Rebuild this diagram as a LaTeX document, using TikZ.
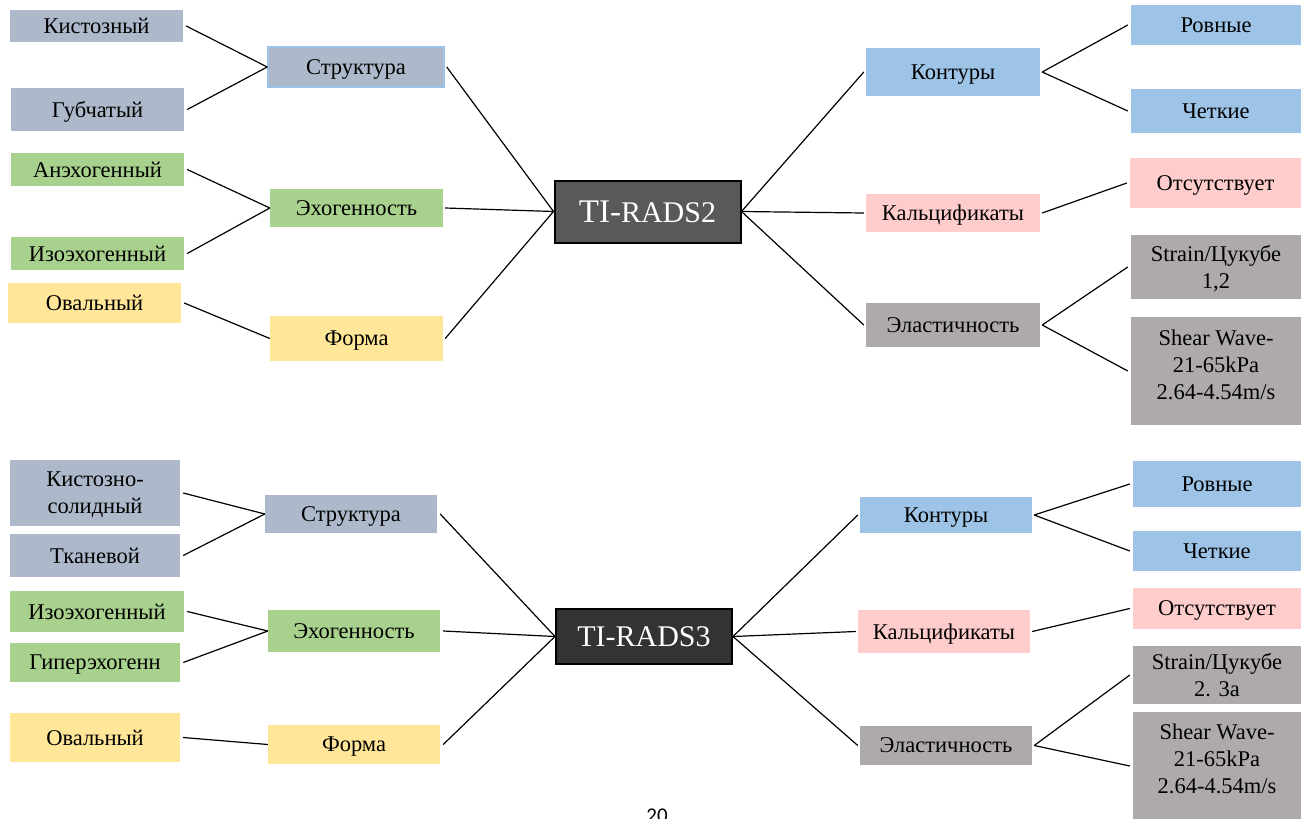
\documentclass[tikz,border=0pt]{standalone}
\usepackage{fontspec}
\setmainfont{Liberation Serif}
\newfontfamily\pagefont{Carlito}
\definecolor{cgb}{HTML}{ADB9CA}
\definecolor{cgr}{HTML}{A9D18E}
\definecolor{cye}{HTML}{FFE699}
\definecolor{cbl}{HTML}{9DC3E6}
\definecolor{cpk}{HTML}{FFCCCC}
\definecolor{cgy}{HTML}{AEAAAA}
\definecolor{cdk2}{HTML}{595959}
\definecolor{cdk3}{HTML}{333333}
\tikzset{
  bx/.style={inner sep=0pt, align=center, text depth=0pt, font=\fontsize{22.5}{27}\selectfont, text=black},
  gb/.style={bx, fill=cgb},
  gr/.style={bx, fill=cgr},
  ye/.style={bx, fill=cye},
  bl/.style={bx, fill=cbl},
  pk/.style={bx, fill=cpk},
  gy/.style={bx, fill=cgy},
  wh/.style={minimum width=#1},
  ht/.style={minimum height=#1},
  ti/.style={inner sep=0pt, draw=black, line width=2pt, text=white, font=\fontsize{30}{34}\selectfont},
  con/.style={draw=black, line width=1.2pt},
}
\begin{document}
\begin{tikzpicture}[x=1pt,y=-1pt]
\useasboundingbox (0,0) rectangle (1301,819);
% ===== TOP: TI-RADS2 =====
\node[ti, fill=cdk2, wh=186, ht=62] (t2) at (647.5,211.5) {{\fontsize{33}{34}\selectfont TI-}RADS2};
\node[gb, wh=173, ht=32] (a1) at (96.5,26) {Кистозный};
\node[gb, wh=173, ht=43] (a2) at (97.5,109.5) {Губчатый};
\node[gb, wh=176, ht=40, draw=cbl, line width=1.5pt] (as) at (356,67) {Структура};
\node[gr, wh=173, ht=33] (b1) at (97.5,169.5) {Анэхогенный};
\node[gr, wh=173, ht=33] (b2) at (97.5,253.5) {Изоэхогенный};
\node[gr, wh=173, ht=38] (bs) at (356.5,208) {Эхогенность};
\node[ye, wh=173, ht=40] (c1) at (94.5,303) {Овальный};
\node[ye, wh=173, ht=45] (cs) at (356.5,338.5) {Форма};
\node[bl, wh=174, ht=48] (d) at (953,72) {Контуры};
\node[bl, wh=170, ht=40] (d1) at (1216,25) {Ровные};
\node[bl, wh=170, ht=44] (d2) at (1216,111) {Четкие};
\node[pk, wh=174, ht=38] (e) at (953,213) {Кальцификаты};
\node[pk, wh=171, ht=50] (e1) at (1215.5,183) {Отсутствует};
\node[gy, wh=174, ht=44] (f) at (953,325) {Эластичность};
\node[gy, wh=170, ht=64] (f1) at (1216,267) {Strain/Цукубе\\1,2};
\node[gy, wh=170, ht=108, label={[bx, yshift=6.5pt]center:{Shear Wave-\\21-65kPa\\2.64-4.54m/s}}] (f2) at (1216,371) {};
\draw[con] ([xshift=3pt]a1.east) -- (as.west);
\draw[con] ([xshift=3pt]a2.east) -- (as.west);
\draw[con] ([xshift=3pt]b1.east) -- (bs.west);
\draw[con] ([xshift=3pt]b2.east) -- (bs.west);
\draw[con] ([xshift=3pt]c1.east) -- (cs.west);
\draw[con] ([xshift=2pt]as.east) -- (t2.west);
\draw[con] ([xshift=2pt]bs.east) -- (t2.west);
\draw[con] ([xshift=2pt]cs.east) -- (t2.west);
\draw[con] (t2.east) -- ([xshift=-2pt]d.west);
\draw[con] (t2.east) -- ([xshift=-2pt]e.west);
\draw[con] (t2.east) -- ([xshift=-2pt]f.west);
\draw[con] ([xshift=2pt]d.east) -- ([xshift=-3pt]d1.west);
\draw[con] ([xshift=2pt]d.east) -- ([xshift=-3pt]d2.west);
\draw[con] ([xshift=2pt]e.east) -- ([xshift=-3pt]e1.west);
\draw[con] ([xshift=2pt]f.east) -- ([xshift=-3pt]f1.west);
\draw[con] ([xshift=2pt]f.east) -- ([xshift=-3pt]f2.west);
% ===== BOTTOM: TI-RADS3 =====
\node[ti, fill=cdk3, wh=176, ht=55] (t3) at (644,636.5) {TI-RADS3};
\node[gb, wh=170, ht=66] (g1) at (95,493) {Кистозно-\\солидный};
\node[gb, wh=170, ht=43] (g2) at (95,555.5) {Тканевой};
\node[gb, wh=172, ht=38] (gs) at (351,514) {Структура};
\node[gr, wh=174, ht=41] (h1) at (97,611.5) {Изоэхогенный};
\node[gr, wh=170, ht=39] (h2) at (95,662.5) {Гиперэхогенн};
\node[gr, wh=172, ht=42] (hs) at (354,631) {Эхогенность};
\node[ye, wh=170, ht=49] (i1) at (95,737.5) {Овальный};
\node[ye, wh=172, ht=39] (is) at (354,744.5) {Форма};
\node[bl, wh=172, ht=36] (j) at (946,515) {Контуры};
\node[bl, wh=168, ht=46] (j1) at (1217,484) {Ровные};
\node[bl, wh=168, ht=40] (j2) at (1217,551) {Четкие};
\node[pk, wh=172, ht=43] (k) at (944,631.5) {Кальцификаты};
\node[pk, wh=168, ht=41] (k1) at (1217,608.5) {Отсутствует};
\node[gy, wh=172, ht=39] (l) at (946,745.5) {Эластичность};
\node[gy, wh=168, ht=58] (l1) at (1217,675) {Strain/Цукубе\\2. 3а};
\node[gy, wh=168, ht=108, label={[bx, yshift=7pt]center:{Shear Wave-\\21-65kPa\\2.64-4.54m/s}}] (l2) at (1217,766) {};
\draw[con] ([xshift=3pt]g1.east) -- (gs.west);
\draw[con] ([xshift=3pt]g2.east) -- (gs.west);
\draw[con] ([xshift=3pt]h1.east) -- (hs.west);
\draw[con] ([xshift=3pt]h2.east) -- (hs.west);
\draw[con] ([xshift=3pt]i1.east) -- (is.west);
\draw[con] ([xshift=3pt]gs.east) -- (t3.west);
\draw[con] ([xshift=3pt]hs.east) -- (t3.west);
\draw[con] ([xshift=3pt]is.east) -- (t3.west);
\draw[con] (t3.east) -- ([xshift=-2pt]j.west);
\draw[con] (t3.east) -- ([xshift=-2pt]k.west);
\draw[con] (t3.east) -- ([xshift=-2pt]l.west);
\draw[con] ([xshift=2pt]j.east) -- ([xshift=-3pt]j1.west);
\draw[con] ([xshift=2pt]j.east) -- ([xshift=-3pt]j2.west);
\draw[con] ([xshift=2pt]k.east) -- ([xshift=-3pt]k1.west);
\draw[con] ([xshift=2pt]l.east) -- ([xshift=-3pt]l1.west);
\draw[con] ([xshift=2pt]l.east) -- ([xshift=-3pt]l2.west);
\node[inner sep=0pt, font=\pagefont\fontsize{21}{22}\selectfont, anchor=base] (pg) at (657,822) {20};
\end{tikzpicture}
\end{document}
